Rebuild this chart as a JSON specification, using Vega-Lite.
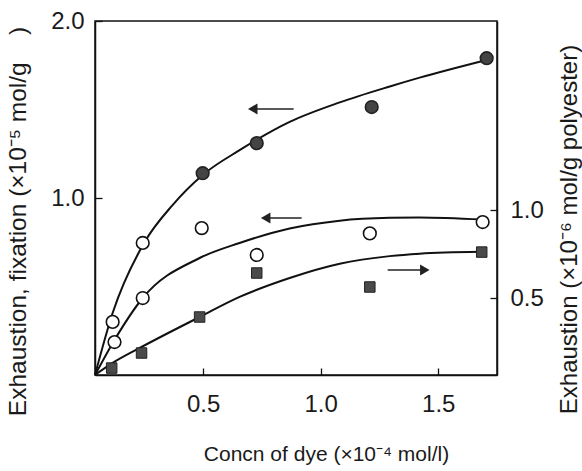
{
  "$schema": "https://vega.github.io/schema/vega-lite/v6.json",
  "width": 402,
  "height": 354,
  "autosize": {"type": "none"},
  "padding": {"left": 95, "top": 21, "right": 85, "bottom": 96},
  "background": "white",
  "datasets": {
    "curvesLeft": [
      {"curve": "upper", "conc": 0.04, "y": 0},
      {"curve": "upper", "conc": 0.115, "y": 0.35},
      {"curve": "upper", "conc": 0.251, "y": 0.751},
      {"curve": "upper", "conc": 0.37, "y": 0.96},
      {"curve": "upper", "conc": 0.498, "y": 1.13},
      {"curve": "upper", "conc": 0.655, "y": 1.27},
      {"curve": "upper", "conc": 0.868, "y": 1.43},
      {"curve": "upper", "conc": 1.081, "y": 1.54},
      {"curve": "upper", "conc": 1.294, "y": 1.63},
      {"curve": "upper", "conc": 1.421, "y": 1.68},
      {"curve": "upper", "conc": 1.706, "y": 1.78},
      {"curve": "middle", "conc": 0.04, "y": 0},
      {"curve": "middle", "conc": 0.123, "y": 0.198},
      {"curve": "middle", "conc": 0.243, "y": 0.435},
      {"curve": "middle", "conc": 0.485, "y": 0.661},
      {"curve": "middle", "conc": 0.655, "y": 0.746},
      {"curve": "middle", "conc": 0.868, "y": 0.828},
      {"curve": "middle", "conc": 1.081, "y": 0.872},
      {"curve": "middle", "conc": 1.294, "y": 0.888},
      {"curve": "middle", "conc": 1.421, "y": 0.89},
      {"curve": "middle", "conc": 1.689, "y": 0.878}
    ],
    "pointsLeft": [
      {"series": "fixation", "conc": 0.498, "y": 1.14},
      {"series": "fixation", "conc": 0.728, "y": 1.31},
      {"series": "fixation", "conc": 1.217, "y": 1.514},
      {"series": "fixation", "conc": 1.706, "y": 1.79},
      {"series": "exhaustion", "conc": 0.115, "y": 0.3},
      {"series": "exhaustion", "conc": 0.123, "y": 0.186},
      {"series": "exhaustion", "conc": 0.243, "y": 0.746},
      {"series": "exhaustion", "conc": 0.243, "y": 0.435},
      {"series": "exhaustion", "conc": 0.494, "y": 0.83},
      {"series": "exhaustion", "conc": 0.728, "y": 0.678},
      {"series": "exhaustion", "conc": 1.209, "y": 0.8},
      {"series": "exhaustion", "conc": 1.689, "y": 0.864}
    ],
    "arrows": [
      {"axis": "left", "tail": 0.885, "head": 0.711, "y": 1.503, "dir": "triangle-left"},
      {"axis": "left", "tail": 0.919, "head": 0.766, "y": 0.887, "dir": "triangle-left"},
      {"axis": "right", "tail": 1.285, "head": 1.443, "y": 0.593, "dir": "triangle-right"}
    ],
    "curveRight": [
      {"curve": "lower", "conc": 0.04, "y": 0.0625},
      {"curve": "lower", "conc": 0.115, "y": 0.131},
      {"curve": "lower", "conc": 0.23, "y": 0.216},
      {"curve": "lower", "conc": 0.485, "y": 0.392},
      {"curve": "lower", "conc": 0.655, "y": 0.506},
      {"curve": "lower", "conc": 0.868, "y": 0.614},
      {"curve": "lower", "conc": 1.081, "y": 0.695},
      {"curve": "lower", "conc": 1.294, "y": 0.738},
      {"curve": "lower", "conc": 1.421, "y": 0.752},
      {"curve": "lower", "conc": 1.677, "y": 0.763}
    ],
    "pointsRight": [
      {"series": "polyester", "conc": 0.111, "y": 0.102},
      {"series": "polyester", "conc": 0.238, "y": 0.1875},
      {"series": "polyester", "conc": 0.485, "y": 0.392},
      {"series": "polyester", "conc": 0.728, "y": 0.642},
      {"series": "polyester", "conc": 1.209, "y": 0.5625},
      {"series": "polyester", "conc": 1.685, "y": 0.761}
    ]
  },
  "layer": [
    {
      "layer": [
        {
          "data": {"name": "curvesLeft"},
          "mark": {"type": "line", "interpolate": "monotone", "color": "#111111", "strokeWidth": 2},
          "encoding": {
            "x": {"field": "conc", "type": "quantitative", "scale": {"domain": [0.04, 1.75], "nice": false, "zero": false},
                  "axis": {"values": [0.5, 1.0, 1.5], "format": ".1f", "title": "Concn of dye (×10⁻⁴ mol/l)", "titleX": 231, "titleY": 85, "titleBaseline": "alphabetic", "titleAlign": "center"}},
            "y": {"field": "y", "type": "quantitative", "scale": {"domain": [0, 2], "nice": false, "zero": false},
                  "axis": {"orient": "left", "values": [1.0, 2.0], "format": ".1f", "labelPadding": 18, "title": "Exhaustion, fixation (×10⁻⁵ mol/g\u00a0\u00a0\u00a0\u00a0)", "titleX": -77, "titleY": 200, "titleAngle": 270, "titleAlign": "center", "titleBaseline": "middle", "titleFontSize": 24.5}},
            "detail": {"field": "curve"}
          }
        },
        {
          "data": {"name": "pointsLeft"},
          "mark": {"type": "point", "shape": "circle", "size": 160, "strokeWidth": 1.6, "opacity": 1},
          "encoding": {
            "x": {"field": "conc", "type": "quantitative"},
            "y": {"field": "y", "type": "quantitative"},
            "fill": {"field": "series", "type": "nominal", "scale": {"domain": ["fixation", "exhaustion"], "range": ["#444444", "#ffffff"]}, "legend": null},
            "stroke": {"field": "series", "type": "nominal", "scale": {"domain": ["fixation", "exhaustion"], "range": ["#222222", "#111111"]}, "legend": null}
          }
        },
        {
          "data": {"name": "arrows"},
          "mark": {"type": "rule", "color": "#222222", "strokeWidth": 1.6},
          "encoding": {
            "x": {"field": "tail", "type": "quantitative"},
            "x2": {"field": "head"},
            "y": {"field": "y", "type": "quantitative"}
          }
        },
        {
          "data": {"name": "arrows"},
          "mark": {"type": "point", "filled": true, "size": 120, "color": "#222222", "opacity": 1},
          "encoding": {
            "x": {"field": "head", "type": "quantitative"},
            "y": {"field": "y", "type": "quantitative"},
            "shape": {"field": "dir", "type": "nominal", "scale": null}
          }
        }
      ]
    },
    {
      "layer": [
        {
          "data": {"name": "curveRight"},
          "mark": {"type": "line", "interpolate": "monotone", "color": "#111111", "strokeWidth": 2},
          "encoding": {
            "x": {"field": "conc", "type": "quantitative"},
            "y": {"field": "y", "type": "quantitative", "scale": {"domain": [0.0625, 2.074], "nice": false, "zero": false},
                  "axis": {"orient": "right", "values": [0.5, 1.0], "format": ".1f", "title": "Exhaustion (×10⁻⁶ mol/g polyester)", "titleX": 72, "titleY": 208, "titleAngle": 270, "titleAlign": "center", "titleBaseline": "middle", "titleFontSize": 24}}
          }
        },
        {
          "data": {"name": "pointsRight"},
          "mark": {"type": "square", "size": 110, "color": "#4a4a4a", "stroke": "#222222", "strokeWidth": 1, "opacity": 1},
          "encoding": {
            "x": {"field": "conc", "type": "quantitative"},
            "y": {"field": "y", "type": "quantitative"}
          }
        }
      ]
    }
  ],
  "resolve": {"scale": {"y": "independent"}},
  "config": {
    "view": {"stroke": "#111111", "strokeWidth": 1.5},
    "axis": {
      "grid": false,
      "domain": true,
      "domainColor": "#111111",
      "domainWidth": 1.5,
      "ticks": true,
      "tickSize": -7,
      "tickColor": "#111111",
      "tickWidth": 1.3,
      "labelFont": "Liberation Sans, sans-serif",
      "labelFontSize": 24,
      "labelColor": "#1a1a1a",
      "labelPadding": 20,
      "titleFont": "Liberation Sans, sans-serif",
      "titleFontSize": 22,
      "titleFontWeight": "normal",
      "titleColor": "#1a1a1a"
    },
    "axisX": {"labelPadding": 24, "labelFlush": false, "titleFontSize": 21}
  }
}
